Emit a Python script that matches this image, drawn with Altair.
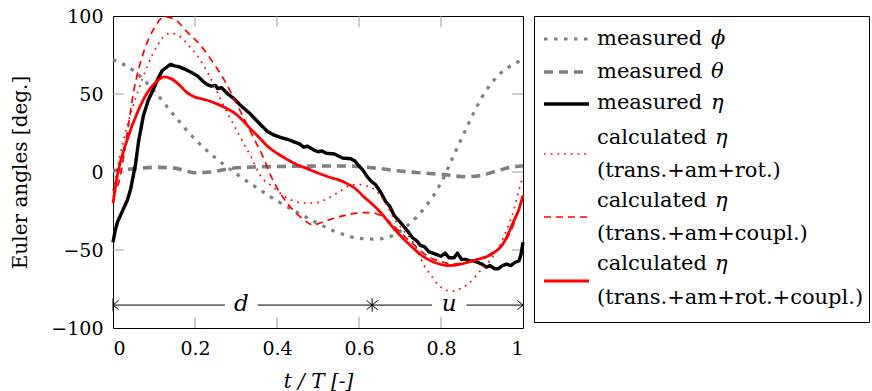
import altair as alt
import pandas as pd

# ---------------- data ----------------
x_ticks = [0, 0.2, 0.4, 0.6, 0.8, 1]
y_ticks = [-100, -50, 0, 50, 100]

t_phi = [0, 0.05, 0.1, 0.15, 0.2, 0.25, 0.3, 0.35, 0.4, 0.45, 0.5, 0.55, 0.6, 0.64,
         0.68, 0.72, 0.76, 0.8, 0.83, 0.86, 0.9, 0.94, 0.97, 1.0]
v_phi = [72, 65, 52, 36, 21, 9, -1, -10, -18.5, -26, -33, -39, -42.5, -43,
         -41, -34, -23, -7, 10, 27, 48, 62, 68, 72]

t_theta = [0, 0.05, 0.1, 0.15, 0.18, 0.2, 0.24, 0.28, 0.32, 0.4, 0.5, 0.58, 0.64,
           0.7, 0.75, 0.8, 0.86, 0.9, 0.94, 0.97, 1.0]
v_theta = [1, 2, 3, 2.5, 0.5, -0.5, 0, 2, 3, 3.5, 3.8, 3.8, 2.5,
           0.6, -0.5, -1.5, -3, -2, 1, 3, 4]

t_eta = [0, 0.005, 0.011, 0.023, 0.035, 0.043, 0.055, 0.062, 0.074, 0.086, 0.1, 0.11,
         0.12, 0.13, 0.14, 0.15, 0.16, 0.175, 0.19, 0.206, 0.22, 0.23, 0.24, 0.25,
         0.255, 0.265, 0.28, 0.295, 0.31, 0.336, 0.35, 0.365, 0.377, 0.39, 0.41, 0.425,
         0.44, 0.455, 0.465, 0.475, 0.49, 0.5, 0.51, 0.52, 0.54, 0.56, 0.58, 0.59, 0.6,
         0.61, 0.62, 0.63, 0.64, 0.653, 0.665, 0.675, 0.686, 0.7, 0.719, 0.73, 0.74,
         0.75, 0.76, 0.77, 0.78, 0.79, 0.8, 0.81, 0.82, 0.832, 0.84, 0.85, 0.86, 0.87,
         0.88, 0.89, 0.9, 0.91, 0.92, 0.93, 0.94, 0.95, 0.96, 0.97, 0.98, 0.99, 0.995, 1.0]
v_eta = [-45, -38, -32, -25, -18, -11, 5, 19, 36, 46, 54, 60,
         65, 67, 69, 68, 67.5, 66, 64, 61.5, 58, 56, 55, 55.5,
         53.5, 54, 50, 47, 43, 37, 33, 29, 26, 24, 22, 21,
         19.5, 18, 16, 16.5, 14, 13, 13.5, 12, 11.5, 9, 8.5, 7, 4,
         1, -3, -6, -8, -13, -19, -22, -28, -32, -38, -42, -44,
         -47, -48, -51, -52, -53, -54, -52, -55, -55, -52, -56, -56, -57,
         -57, -58, -59, -61, -60, -62, -62, -60, -59, -60, -58, -57, -53, -45]

t_rot = [0, 0.015, 0.035, 0.06, 0.084, 0.108, 0.133, 0.15, 0.165, 0.185, 0.206, 0.238,
         0.27, 0.304, 0.336, 0.36, 0.393, 0.42, 0.44, 0.47, 0.5, 0.523, 0.55, 0.575,
         0.596, 0.62, 0.645, 0.665, 0.686, 0.707, 0.727, 0.745, 0.759, 0.775, 0.792,
         0.81, 0.824, 0.845, 0.865, 0.897, 0.93, 0.954, 0.978, 0.995, 1.0]
v_rot = [-12, 8, 30, 51, 68, 81, 88.5, 88.5, 86.5, 81, 74.5, 60,
         42.5, 25.5, 10, -2.5, -10, -16, -18.5, -20, -19.5, -17, -13, -9,
         -8, -9, -13, -20, -30, -37, -43, -52, -60, -66, -72,
         -75.5, -76.5, -75, -72, -63, -53, -41, -24, -7, -3]

t_coupl = [0, 0.018, 0.035, 0.05, 0.075, 0.1, 0.125, 0.15, 0.18, 0.214, 0.238, 0.27,
           0.304, 0.336, 0.368, 0.385, 0.418, 0.458, 0.49, 0.507, 0.535, 0.563, 0.59,
           0.62, 0.64, 0.653, 0.675, 0.694, 0.727, 0.768, 0.8, 0.83, 0.86, 0.9, 0.93,
           0.955, 0.975, 0.99, 1.0]
v_coupl = [-16, -2.5, 25.5, 51, 77, 92, 99.5, 98, 90, 81, 72.5, 59.5,
           42.5, 25.5, 8.5, -2.5, -17.5, -29, -34, -32.5, -30, -28, -26.5,
           -26, -26.5, -28, -32, -37, -45, -54, -57.5, -59, -58, -55, -51,
           -45, -35, -24, -16]

t_full = [0, 0.01, 0.035, 0.06, 0.084, 0.108, 0.125, 0.14, 0.15, 0.165, 0.18, 0.2,
          0.214, 0.235, 0.255, 0.275, 0.295, 0.315, 0.336, 0.357, 0.377, 0.4, 0.425,
          0.45, 0.475, 0.503, 0.53, 0.555, 0.575, 0.595, 0.61, 0.63, 0.653, 0.67,
          0.686, 0.707, 0.727, 0.748, 0.768, 0.79, 0.816, 0.84, 0.865, 0.89, 0.914,
          0.93, 0.946, 0.958, 0.97, 0.98, 0.99, 1.0]
v_full = [-20, -3, 21, 38.5, 51, 58.5, 61, 60, 58.5, 55, 51, 48,
          47, 45.5, 43.5, 41, 38, 33.5, 27.5, 22, 16.5, 12, 8,
          4.5, 2, -1, -3.5, -5.5, -8, -11.5, -15.5, -20, -26, -31.5,
          -36.5, -42.5, -47.5, -52.5, -56, -58.5, -60, -59.5, -58, -56, -54,
          -51.5, -48, -43, -36, -30, -24, -15]

phase_bounds = [0, 0.632, 1.0]
phase_labels = ["d", "u"]
phase_label_t = [0.313, 0.82]
phase_level = -85.3

legend_labels = [
    ("measured", "ϕ", ""),
    ("measured", "θ", ""),
    ("measured", "η", ""),
    ("calculated", "η", "(trans.+am+rot.)"),
    ("calculated", "η", "(trans.+am+coupl.)"),
    ("calculated", "η", "(trans.+am+rot.+coupl.)"),
]

# ---------------- styles ----------------
FONT = "DejaVu Serif"
GRAY = "#808080"
RED = "#ff0000"
styles = [
    dict(color=GRAY, width=3.2, dash=[3.5, 6.5], interp="monotone"),
    dict(color=GRAY, width=3.6, dash=[9, 6], interp="monotone"),
    dict(color="black", width=3.4, dash=None, interp="linear"),
    dict(color=RED, width=1.7, dash=[1.7, 5], interp="monotone"),
    dict(color=RED, width=1.7, dash=[7, 5], interp="monotone"),
    dict(color=RED, width=2.8, dash=None, interp="monotone"),
]
series = [(t_phi, v_phi), (t_theta, v_theta), (t_eta, v_eta),
          (t_rot, v_rot), (t_coupl, v_coupl), (t_full, v_full)]

W, H = 410, 312
xs = alt.Scale(domain=[0, 1], nice=False, zero=False)
ys = alt.Scale(domain=[-100, 100], nice=False, zero=False)
x_axis = alt.Axis(values=x_ticks, format="~g", title="t / T [-]", ticks=False,
                  domain=False, grid=False, labelPadding=11, titlePadding=13,
                  titleFontStyle="italic")
y_axis = alt.Axis(values=y_ticks, title="Euler angles [deg.]", ticks=False,
                  domain=False, grid=False, labelPadding=10, titlePadding=20)

def X(f="t"):
    return alt.X(f"{f}:Q", scale=xs, axis=x_axis)

def Y(f="v"):
    return alt.Y(f"{f}:Q", scale=ys, axis=y_axis)

layers = []

# inward ticks
tick_len_y = 11 / (H / 200.0)
tick_len_x = 11 / W
inner_x = [t for t in x_ticks if 0 < t < 1]
inner_y = [v for v in y_ticks if -100 < v < 100]
tk_v = pd.DataFrame(
    [{"t": t, "v": -100, "v2": -100 + tick_len_y} for t in inner_x]
    + [{"t": t, "v": 100, "v2": 100 - tick_len_y} for t in inner_x])
tk_h = pd.DataFrame(
    [{"t": 0, "t2": tick_len_x, "v": v} for v in inner_y]
    + [{"t": 1 - tick_len_x, "t2": 1, "v": v} for v in inner_y])
layers.append(alt.Chart(tk_v).mark_rule(color="#999999", strokeWidth=1).encode(
    x=X(), y=Y(), y2="v2:Q"))
layers.append(alt.Chart(tk_h).mark_rule(color="#999999", strokeWidth=1).encode(
    x=X(), x2="t2:Q", y=Y()))

for (tt, vv), st in zip(series, styles):
    kw = dict(color=st["color"], strokeWidth=st["width"], interpolate=st["interp"],
              strokeJoin="round")
    if st["dash"]:
        kw["strokeDash"] = st["dash"]
    layers.append(alt.Chart(pd.DataFrame({"t": tt, "v": vv})).mark_line(**kw).encode(
        x=X(), y=Y()))

# phase annotation (d / u)
gap_half = [0.040, 0.042]
segs = []
for i in range(2):
    a, b = phase_bounds[i], phase_bounds[i + 1]
    c = phase_label_t[i]
    segs.append({"t": a, "t2": c - gap_half[i], "v": phase_level})
    segs.append({"t": c + gap_half[i], "t2": b, "v": phase_level})
layers.append(alt.Chart(pd.DataFrame(segs)).mark_rule(color="black", strokeWidth=1).encode(
    x=X(), x2="t2:Q", y=Y()))
bars = pd.DataFrame([{"t": phase_bounds[0], "v": phase_level - 4.2, "v2": phase_level + 4.2},
                     {"t": phase_bounds[1], "v": phase_level - 4.2, "v2": phase_level + 4.2}])
layers.append(alt.Chart(bars).mark_rule(color="black", strokeWidth=1).encode(
    x=X(), y=Y(), y2="v2:Q"))
left_heads = pd.DataFrame({"t": phase_bounds[:2], "v": [phase_level] * 2})
right_heads = pd.DataFrame({"t": phase_bounds[1:], "v": [phase_level] * 2})
layers.append(alt.Chart(left_heads).mark_point(
    shape="M1.2,-1L0,0L1.2,1", size=85, filled=False, stroke="black", strokeWidth=1,
    opacity=1).encode(x=X(), y=Y()))
layers.append(alt.Chart(right_heads).mark_point(
    shape="M-1.2,-1L0,0L-1.2,1", size=85, filled=False, stroke="black", strokeWidth=1,
    opacity=1).encode(x=X(), y=Y()))
lab = pd.DataFrame({"t": phase_label_t, "v": [phase_level] * 2, "s": phase_labels})
layers.append(alt.Chart(lab).mark_text(font=FONT, fontSize=23, fontStyle="italic",
                                        baseline="middle", align="center", dy=-1).encode(
    x=X(), y=Y(), text="s:N"))

main = alt.layer(*layers).properties(width=W, height=H)

# ---------------- custom legend ----------------
LW, LH = 335, 306
lxs = alt.Scale(domain=[0, LW], nice=False, zero=False)
lys = alt.Scale(domain=[LH, 0], nice=False, zero=False)
sym_x0, sym_x1, txt_x = 10, 55, 63
greek_x = [177, 177, 177, 181, 181, 181]
sym_y = [23, 56, 88, 138, 201, 265]
line1_y = [23, 56, 87, 122, 185, 248]
line2_y = [None, None, None, 155, 218, 282]

leg_layers = []
for i, st in enumerate(styles):
    kw = dict(color=st["color"], strokeWidth=st["width"])
    if st["dash"]:
        kw["strokeDash"] = st["dash"]
    d = pd.DataFrame({"x": [sym_x0], "x2": [sym_x1], "y": [sym_y[i]]})
    leg_layers.append(alt.Chart(d).mark_rule(**kw).encode(
        x=alt.X("x:Q", scale=lxs, axis=None), x2="x2:Q",
        y=alt.Y("y:Q", scale=lys, axis=None)))

rows_main, rows_greek, rows_sub = [], [], []
for i, (w, g, sub) in enumerate(legend_labels):
    rows_main.append({"x": txt_x, "y": line1_y[i], "s": w})
    rows_greek.append({"x": greek_x[i], "y": line1_y[i], "s": g})
    if sub:
        rows_sub.append({"x": txt_x, "y": line2_y[i], "s": sub})
for rows, style in [(rows_main, "normal"), (rows_greek, "italic"), (rows_sub, "normal")]:
    leg_layers.append(alt.Chart(pd.DataFrame(rows)).mark_text(
        font=FONT, fontSize=21, fontStyle=style, align="left", baseline="middle",
        color="black").encode(
        x=alt.X("x:Q", scale=lxs, axis=None),
        y=alt.Y("y:Q", scale=lys, axis=None), text="s:N"))

legend = alt.layer(*leg_layers).properties(width=LW, height=LH)

chart = alt.hconcat(main, legend, spacing=7).properties(
    padding={"left": 10, "top": 6, "right": 0, "bottom": 0}
).configure_view(stroke="black", strokeWidth=1).configure_axis(
    labelFont=FONT, labelFontSize=19, labelColor="black",
    titleFont=FONT, titleFontSize=20, titleFontWeight="normal", titleColor="black")

chart.save("out.html", embed_options={"renderer": "svg", "actions": False})
